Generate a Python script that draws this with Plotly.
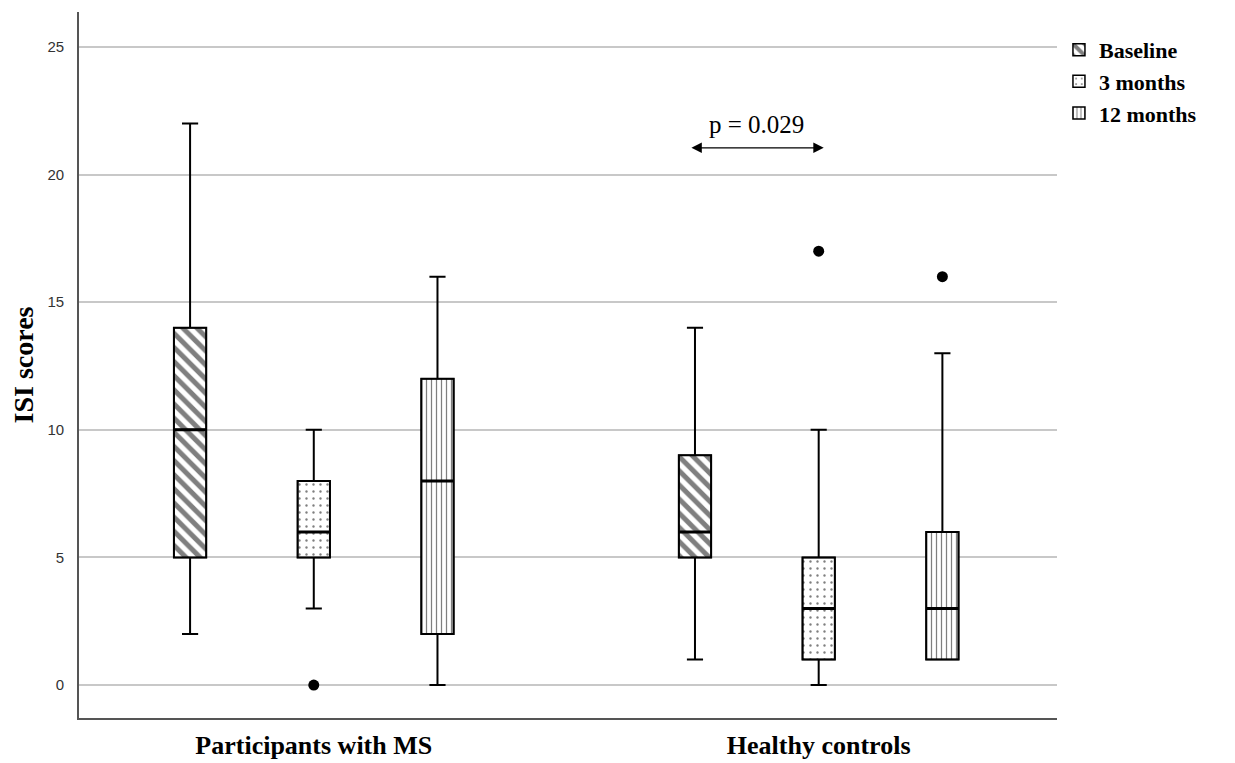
import plotly.graph_objects as go

# ---- data ----
groups = ["Participants with MS", "Healthy controls"]
timepoints = ["Baseline", "3 months", "12 months"]
lower_whisker = {"Baseline": [2, 1], "3 months": [3, 0], "12 months": [0, 1]}
q1 = {"Baseline": [5, 5], "3 months": [5, 1], "12 months": [2, 1]}
median = {"Baseline": [10, 6], "3 months": [6, 3], "12 months": [8, 3]}
q3 = {"Baseline": [14, 9], "3 months": [8, 5], "12 months": [12, 6]}
upper_whisker = {"Baseline": [22, 14], "3 months": [10, 10], "12 months": [16, 13]}
# outliers: (group index, value)
outliers = {"Baseline": [], "3 months": [(0, 0), (1, 17)], "12 months": [(1, 16)]}
patterns = {"Baseline": "\\", "3 months": ".", "12 months": "|"}
p_text = "p = 0.029"
y_ticks = [0, 5, 10, 15, 20, 25]

SERIF = "Liberation Serif, Times New Roman, serif"
SANS = "Liberation Sans, Arial, sans-serif"
offset = 0.245
bw = 0.064
pat_size = {"Baseline": 10, "3 months": 7, "12 months": 5}
pat_sol = {"Baseline": 0.5, "3 months": 0.09, "12 months": 0.25}

fig = go.Figure()
for k, tp in enumerate(timepoints):
    xs = [i + (k - 1) * offset for i in range(len(groups))]
    fig.add_trace(go.Bar(
        x=xs, y=[b - a for a, b in zip(q1[tp], q3[tp])], base=q1[tp], width=bw,
        name=tp, marker=dict(color="white", line=dict(color="black", width=1.5),
                             pattern=dict(shape=patterns[tp], fgcolor="black", bgcolor="white",
                                          size=pat_size[tp], solidity=pat_sol[tp])),
        showlegend=True, hoverinfo="skip"))
for k, tp in enumerate(timepoints):
    xs = [i + (k - 1) * offset for i in range(len(groups))]
    fig.add_trace(go.Box(
        x=xs, q1=q1[tp], median=median[tp], q3=q3[tp],
        lowerfence=lower_whisker[tp], upperfence=upper_whisker[tp],
        width=bw, whiskerwidth=0.5, fillcolor="rgba(0,0,0,0)",
        line=dict(color="black", width=2), showlegend=False, hoverinfo="skip"))
    # thicker median lines
    mx, my = [], []
    for x, m in zip(xs, median[tp]):
        mx += [x - bw / 2, x + bw / 2, None]
        my += [m, m, None]
    fig.add_trace(go.Scatter(x=mx, y=my, mode="lines", line=dict(color="black", width=3),
                             showlegend=False, hoverinfo="skip"))
    if outliers[tp]:
        fig.add_trace(go.Scatter(
            x=[g + (k - 1) * offset for g, v in outliers[tp]], y=[v for g, v in outliers[tp]],
            mode="markers", marker=dict(color="black", size=11), showlegend=False))

# significance arrow between HC baseline and HC 3 months
x_a = 1 + (-1) * offset
x_b = 1 + 0 * offset
fig.add_annotation(x=x_b + 0.01, y=21.05, ax=x_a - 0.01, ay=21.05, xref="x", yref="y",
                   axref="x", ayref="y", showarrow=True, arrowhead=2, arrowside="end+start",
                   arrowsize=1.6, arrowwidth=1.3, arrowcolor="black", text="")
fig.add_annotation(x=(x_a + x_b) / 2, y=21.95, xref="x", yref="y", text=p_text,
                   showarrow=False, font=dict(family=SERIF, size=25, color="black"))

fig.update_layout(
    width=1235, height=763, plot_bgcolor="white", paper_bgcolor="white",
    margin=dict(l=71, r=186, t=4, b=53, autoexpand=False),
    barmode="overlay", boxmode="overlay",
    legend=dict(x=1.002, y=0.976, xanchor="left", yanchor="top",
                font=dict(family=SERIF, size=22, color="black", weight="bold"),
                tracegroupgap=0, itemwidth=30, bgcolor="rgba(0,0,0,0)"),
    xaxis=dict(range=[-0.465, 1.472], tickvals=list(range(len(groups))), ticktext=groups,
               showgrid=False, zeroline=False, showline=True, linecolor="#555", linewidth=1.8,
               ticks="", ticklabelstandoff=3, automargin=False,
               tickfont=dict(family=SERIF, size=26, color="black", weight="bold")),
    yaxis=dict(range=[-1.29, 26.37], tickvals=y_ticks, showgrid=True, gridcolor="#c8c8c8",
               gridwidth=1.5, zeroline=False, showline=True, linecolor="#555", linewidth=1.8,
               ticks="", ticklabelstandoff=10, automargin=False,
               tickfont=dict(family=SANS, size=15, color="#333"),
               title=dict(text="ISI scores", standoff=10,
                          font=dict(family=SERIF, size=28, color="black", weight="bold"))),
)

fig.write_html("out.html")
